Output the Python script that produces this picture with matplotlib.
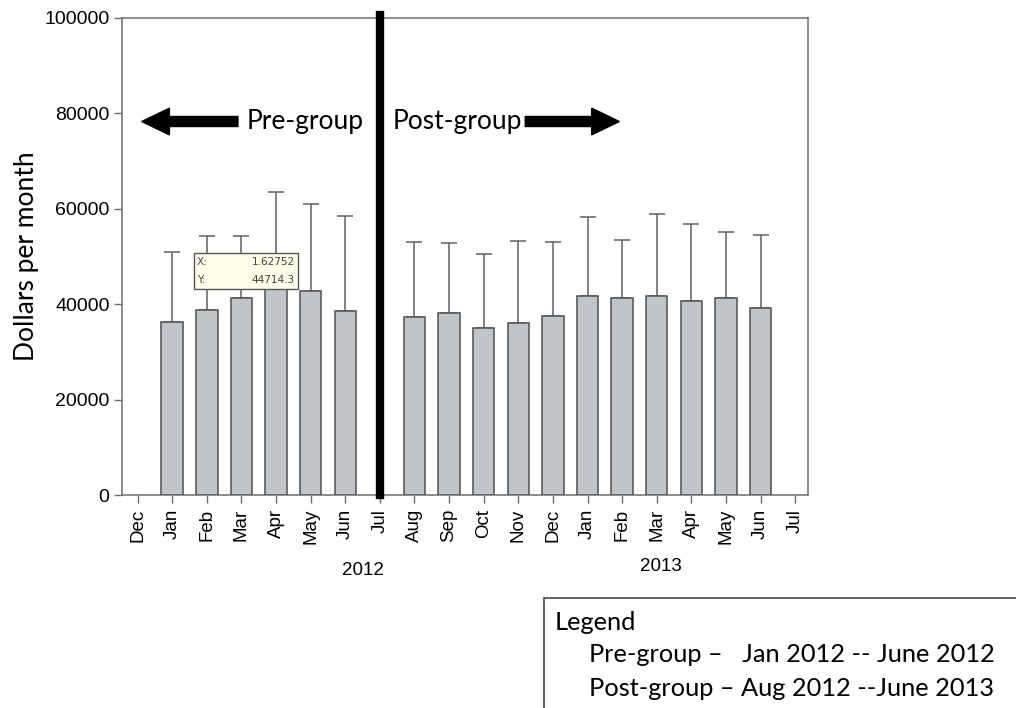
import matplotlib
matplotlib.use("Agg")
import matplotlib.pyplot as plt
import matplotlib.patches as mpatches
import numpy as np

# ---- data ----
tick_labels = ["Dec", "Jan", "Feb", "Mar", "Apr", "May", "Jun", "Jul", "Aug", "Sep",
               "Oct", "Nov", "Dec", "Jan", "Feb", "Mar", "Apr", "May", "Jun", "Jul"]
bar_months = ["Jan", "Feb", "Mar", "Apr", "May", "Jun",
              "Aug", "Sep", "Oct", "Nov", "Dec", "Jan", "Feb", "Mar", "Apr", "May", "Jun"]
bar_positions = [1, 2, 3, 4, 5, 6, 8, 9, 10, 11, 12, 13, 14, 15, 16, 17, 18]
means = [36300, 38700, 41200, 44700, 42800, 38600,
         37400, 38100, 35100, 36100, 37600, 41800, 41200, 41800, 40700, 41400, 39300]
upper_sd = [14700, 15700, 13200, 18800, 18200, 19900,
            15700, 14700, 15500, 17200, 15500, 16400, 12300, 17200, 16100, 13700, 15200]
divider_position = 7
year_labels = ["2012", "2013"]
year_label_x = [6.52, 15.13]
year_label_y = [-0.159, -0.149]
yticks = [0, 20000, 40000, 60000, 80000, 100000]

W, H = 1016, 708
fig = plt.figure(figsize=(W / 100, H / 100), dpi=100)
ax = fig.add_axes([122 / W, 1 - 495 / H, (808 - 122) / W, (495 - 18) / H])

spine_c = "#6e6e6e"
ax.bar(bar_positions, means, width=0.62, color="#c1c4c8", edgecolor="#505050",
       linewidth=1.1, zorder=3)
ax.errorbar(bar_positions, means, yerr=[np.zeros(len(means)), upper_sd], fmt="none",
            ecolor="#606060", elinewidth=1.1, capsize=5.5, capthick=1.1, zorder=2)

ax.set_xlim(-0.45, 19.37)
ax.set_ylim(0, 100000)
ax.set_xticks(range(len(tick_labels)))
ax.set_xticklabels(tick_labels, rotation=90, fontsize=13.5, family="Liberation Sans")
ax.set_yticks(yticks)
ax.set_yticklabels([str(v) for v in yticks], fontsize=14, family="Liberation Sans")
ax.tick_params(axis="both", direction="out", length=6, width=1, color=spine_c, pad=3)
ax.tick_params(axis="x", pad=4)
for s in ax.spines.values():
    s.set_color(spine_c)
    s.set_linewidth(1.1)

ax.set_ylabel("Dollars per month", fontsize=19, family="Lato", labelpad=4)

# divider
ax.axvline(divider_position, ymin=0, ymax=1.007, color="black", linewidth=6, clip_on=False, zorder=5)

# arrows and group labels
arrow_y = 78300
ax.add_patch(mpatches.FancyArrow(2.9, arrow_y, -2.78, 0, width=2100, head_width=5600,
                                 head_length=0.8, length_includes_head=True,
                                 color="black", zorder=5))
ax.add_patch(mpatches.FancyArrow(11.2, arrow_y, 2.72, 0, width=2100, head_width=5600,
                                 head_length=0.8, length_includes_head=True,
                                 color="black", zorder=5))
ax.text(6.52, arrow_y, "Pre-group", ha="right", va="center", fontsize=19, family="Lato")
ax.text(7.38, arrow_y, "Post-group", ha="left", va="center", fontsize=19, family="Lato")

# year labels
for lbl, xv, yv in zip(year_labels, year_label_x, year_label_y):
    ax.text(xv, yv, lbl, transform=ax.get_xaxis_transform(), ha="center", va="center",
            fontsize=13.5, family="Liberation Sans")

# tooltip
tx0, ty0, tx1, ty1 = 194, 253, 298, 289
fig.patches.append(mpatches.Rectangle((tx0 / W, 1 - ty1 / H), (tx1 - tx0) / W, (ty1 - ty0) / H,
                                      transform=fig.transFigure, facecolor="#fffce8",
                                      edgecolor="#555555", linewidth=1.0, zorder=10))
for yy, k, v in [(262, "X:", "1.62752"), (280, "Y:", "44714.3")]:
    fig.text(197 / W, 1 - yy / H, k, fontsize=7.5, color="#444444", va="center", ha="left", zorder=11)
    fig.text(295 / W, 1 - yy / H, v, fontsize=7.5, color="#444444", va="center", ha="right", zorder=11)

# legend box
fig.patches.append(mpatches.Rectangle((544 / W, -0.05), 0.6, 0.05 + 1 - 598 / H,
                                      transform=fig.transFigure, facecolor="white",
                                      edgecolor="#4f5675", linewidth=1.3))
fig.text(555 / W, 1 - 622 / H, "Legend", fontsize=18.3, family="Lato", va="center")
fig.text(589 / W, 1 - 655 / H, "Pre-group \u2013   Jan 2012 -- June 2012", fontsize=18.3,
         family="Lato", va="center")
fig.text(589 / W, 1 - 688 / H, "Post-group \u2013 Aug 2012 --June 2013", fontsize=18.3,
         family="Lato", va="center")

fig.savefig("out.png", dpi=100)
